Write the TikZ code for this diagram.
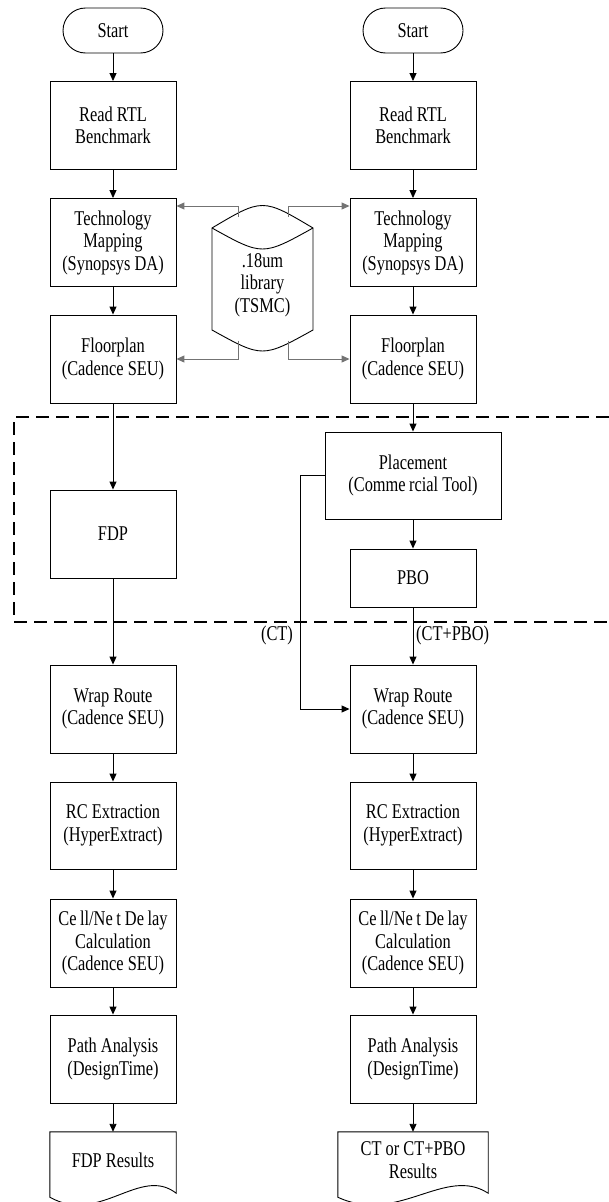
\documentclass[tikz,border=0pt]{standalone}
\usepackage{fontspec}
\setmainfont[FakeStretch=0.78]{Liberation Serif}
\usetikzlibrary{arrows.meta,calc}
\begin{document}
\begin{tikzpicture}[x=1pt,y=-1pt,
  txt/.style={font=\fontsize{21}{22.5}\selectfont, align=center, inner sep=0pt},
  proc/.style={txt, draw, line width=0.9pt, minimum width=126pt, minimum height=88pt},
  term/.style={txt, draw, line width=0.9pt, minimum width=100pt, minimum height=45pt, rounded corners=22.5pt},
  docn/.style={txt, minimum width=126pt, minimum height=56pt},
  docline/.style={line width=0.9pt},
  arr/.style={-{Triangle[length=8pt,width=7pt]}, line width=0.9pt},
  libarr/.style={-{Triangle[length=8pt,width=7pt]}, line width=1pt, draw=black!55},
  regionline/.style={line width=2pt, dash pattern=on 13pt off 7pt}
]
\useasboundingbox (0,0) rectangle (609,1202);

% left column
\node[term] (s1) at (113,30.5) {Start};
\node[proc] (r1) at (113,125.5) {Read RTL\\Benchmark};
\node[proc] (t1) at (113,242.5) {Technology\\Mapping\\(Synopsys DA)};
\node[proc] (f1) at (113,359) {Floorplan\\(Cadence SEU)};
\node[proc] (fdp) at (113,534) {FDP};
\node[proc] (w1) at (113,709) {Wrap Route\\(Cadence SEU)};
\node[proc, minimum height=87pt] (rc1) at (113,825.5) {RC Extraction\\(HyperExtract)};
\node[proc] (c1) at (113,943) {Ce\,ll/Ne\,t De\,lay\\Calculation\\(Cadence SEU)};
\node[proc] (p1) at (113,1059) {Path Analysis\\(DesignTime)};
\node[docn] (d1) at (113,1160) {FDP Results};

% right column
\node[term] (s2) at (413,30.5) {Start};
\node[proc] (r2) at (413,125.5) {Read RTL\\Benchmark};
\node[proc] (t2) at (413,242.5) {Technology\\Mapping\\(Synopsys DA)};
\node[proc] (f2) at (413,359) {Floorplan\\(Cadence SEU)};
\node[proc, minimum width=176pt, minimum height=87pt] (pl) at (413,475.5) {Placement\\(Comme\,rcial Tool)};
\node[proc, minimum height=58pt] (pbo) at (413,578) {PBO};
\node[proc] (w2) at (413,709) {Wrap Route\\(Cadence SEU)};
\node[proc, minimum height=87pt] (rc2) at (413,825.5) {RC Extraction\\(HyperExtract)};
\node[proc] (c2) at (413,943) {Ce\,ll/Ne\,t De\,lay\\Calculation\\(Cadence SEU)};
\node[proc] (p2) at (413,1059) {Path Analysis\\(DesignTime)};
\node[docn, minimum width=150pt] (d2) at (413,1160) {CT or CT+PBO\\Results};

% document outlines
\draw[docline] (d1.north west) -- (d1.north east) -- ($(d1.south east)+(0,5)$)
  .. controls +(-36,-28) and +(50,28) .. ($(d1.south west)+(0,9)$) -- cycle;
\draw[docline] (d2.north west) -- (d2.north east) -- ($(d2.south east)+(0,5)$)
  .. controls +(-43,-28) and +(60,28) .. ($(d2.south west)+(0,9)$) -- cycle;

% library cylinder
\draw[line width=0.9pt] (212,228) .. controls (262.5,198) .. (313,228) -- (313,330)
  .. controls (262.5,358) .. (212,330) -- cycle;
\draw[line width=0.9pt] (212,228) .. controls (262.5,256) .. (313,228);
\node[txt] (lib) at (262.5,285) {.18um\\library\\(TSMC)};
\coordinate (la) at (238,216.7);
\coordinate (ra) at (288,216.7);
\coordinate (lb) at (238,340.6);
\coordinate (rb) at (288,340.6);
\draw[libarr] (la) |- ([yshift=36.5pt]t1.east);
\draw[libarr] (ra) |- ([yshift=36.5pt]t2.west);
\draw[libarr] (lb) |- (f1.east);
\draw[libarr] (rb) |- (f2.west);

% dashed region
\draw[regionline] (609,417) -- (14,417) -- (14,622) -- (609,622);

% left flow
\draw[arr] (s1) -- (r1);
\draw[arr] (r1) -- (t1);
\draw[arr] (t1) -- (f1);
\draw[arr] (f1) -- (fdp);
\draw[arr] (fdp) -- (w1);
\draw[arr] (w1) -- (rc1);
\draw[arr] (rc1) -- (c1);
\draw[arr] (c1) -- (p1);
\draw[arr] (p1) -- (d1.north);

% right flow
\draw[arr] (s2) -- (r2);
\draw[arr] (r2) -- (t2);
\draw[arr] (t2) -- (f2);
\draw[arr] (f2) -- (pl);
\draw[arr] (pl) -- (pbo);
\draw[arr] (pbo) -- (w2);
\draw[arr] (w2) -- (rc2);
\draw[arr] (rc2) -- (c2);
\draw[arr] (c2) -- (p2);
\draw[arr] (p2) -- (d2.north);
\draw[arr] (pl.west) -- ++(-24,0) |- (w2.west);

% labels
\node[txt] (ct) at (277,635) {(CT)};
\node[txt, anchor=west] (ctpbo) at (416,635) {(CT+PBO)};
\end{tikzpicture}
\end{document}
